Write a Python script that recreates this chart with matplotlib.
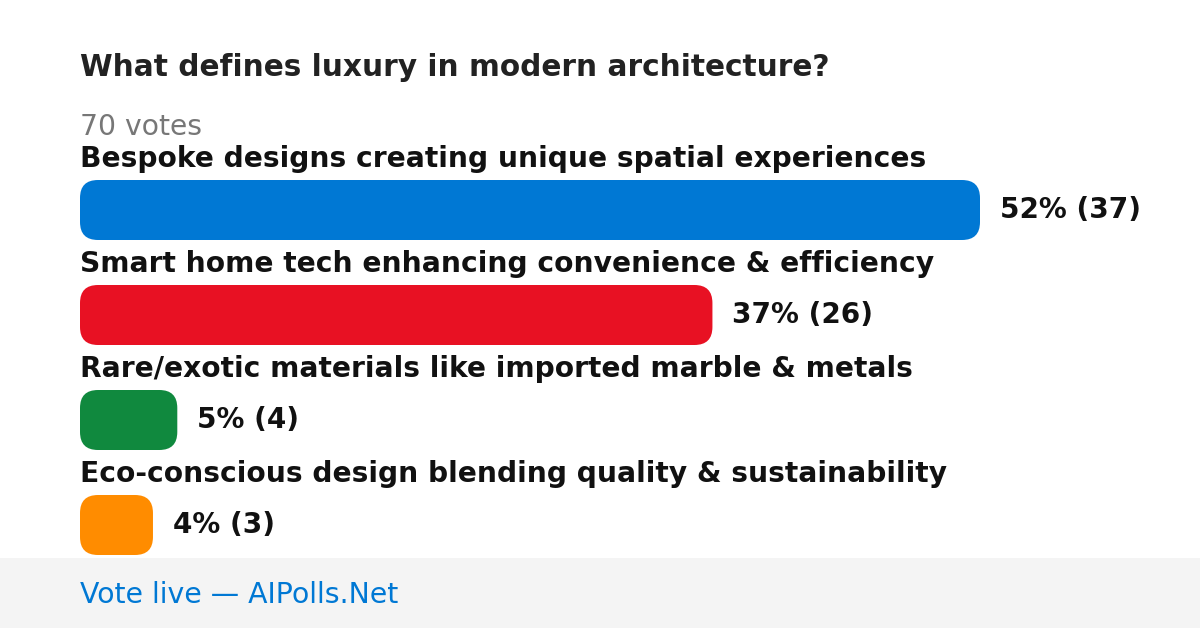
import matplotlib
matplotlib.use("Agg")
import matplotlib.pyplot as plt
from matplotlib.patches import FancyBboxPatch, Rectangle

plt.rcParams["font.family"] = ["DejaVu Sans"]

title = "What defines luxury in modern architecture?"
total_votes = 70
options = [
    "Bespoke designs creating unique spatial experiences",
    "Smart home tech enhancing convenience & efficiency",
    "Rare/exotic materials like imported marble & metals",
    "Eco-conscious design blending quality & sustainability",
]
votes = [37, 26, 4, 3]
percents = [52, 37, 5, 4]
colors = ["#0078d4", "#e81123", "#10893e", "#ff8c00"]

W, H = 1200, 628
fig = plt.figure(figsize=(W / 100, H / 100), dpi=100)
ax = fig.add_axes([0, 0, 1, 1])
ax.set_xlim(0, W)
ax.set_ylim(H, 0)
ax.axis("off")

left = 80
max_w = 900
scale = max_w / max(votes)

ax.text(left, 68, title, fontsize=21.3, fontweight="bold", color="#222222", va="center")
ax.text(left, 127, f"{total_votes} votes", fontsize=20.3, color="#777777", va="center")

for i, (lab, v, p, c) in enumerate(zip(options, votes, percents, colors)):
    top = 180 + i * 105
    ax.text(left, top - 21, lab, fontsize=20.25, fontweight="bold", color="#111111", va="center")
    w = v * scale
    ax.add_patch(FancyBboxPatch((left, top), w, 60,
                                boxstyle="round,pad=0,rounding_size=18",
                                facecolor=c, edgecolor="none"))
    ax.text(left + w + 20, top + 30, f"{p}% ({v})", fontsize=20.05, fontweight="bold",
            color="#111111", va="center")

ax.add_patch(Rectangle((0, 558), W, 70, facecolor="#f4f4f4", edgecolor="none"))
ax.text(left, 595, "Vote live \u2014 AIPolls.Net", fontsize=20.4, color="#0078d4", va="center")

fig.savefig("out.png", dpi=100)
